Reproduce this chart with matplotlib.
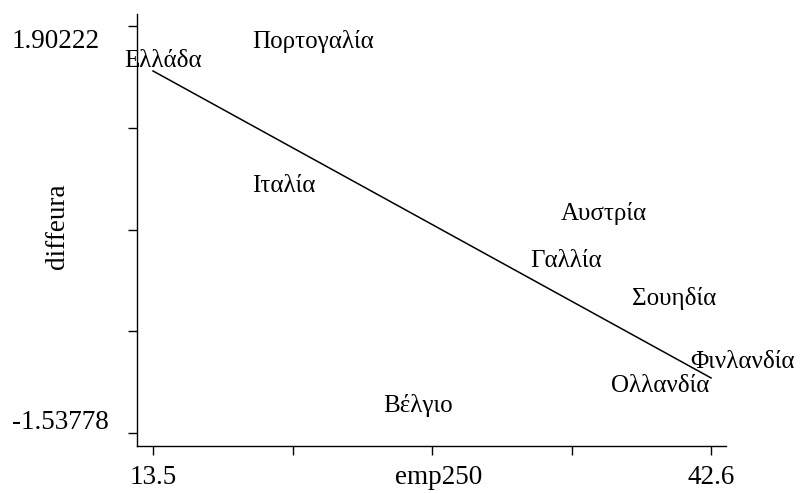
import numpy as np
import matplotlib
matplotlib.use("Agg")
from matplotlib import pyplot as plt
from matplotlib.transforms import ScaledTranslation

plt.rcParams['font.family'] = ['Liberation Serif', 'DejaVu Serif']

# country labels and where they sit (emp250, diffeura)
countries = ["Ελλάδα", "Πορτογαλία", "Ιταλία", "Αυστρία", "Γαλλία",
             "Σουηδία", "Φινλανδία", "Ολλανδία", "Βέλγιο"]
emp250 = [14.02, 21.84, 20.33, 37.02, 35.04, 40.67, 44.22, 39.94, 27.32]
diffeura = [1.612, 1.772, 0.553, 0.322, -0.080, -0.400, -0.940, -1.137, -1.306]

# fitted line end points
fit_x = [13.5, 42.6]
fit_y = [1.526, -1.072]

xmin, xmax = 13.5, 42.6
ymin, ymax = -1.53778, 1.90222

fig = plt.figure(figsize=(8.07, 4.93), dpi=100)
ax = fig.add_axes([137/807, 1 - 446/493, (726-137)/807, (446-14)/493])

for name, x, y in zip(countries, emp250, diffeura):
    ax.text(x, y, name, fontsize=18, ha='center', va='center')

ax.plot(fit_x, fit_y, color='black', lw=1.1)

ax.set_xlim(12.666, 43.38)
ax.set_ylim(-1.648, 2.008)

ax.spines['top'].set_visible(False)
ax.spines['right'].set_visible(False)
for s in ['left', 'bottom']:
    ax.spines[s].set_linewidth(1.0)

ax.set_xticks(np.linspace(xmin, xmax, 5))
ax.set_xticklabels(["13.5", "", "", "", "42.6"])
ax.set_yticks(np.linspace(ymin, ymax, 5))
ax.set_yticklabels(["-1.53778", "", "", "", "1.90222"])
ax.tick_params(axis='x', length=6.5, width=1, labelsize=19.5, pad=7)
ax.tick_params(axis='y', length=6.5, width=1, labelsize=19.5, pad=83.5)

ylabs = ax.get_yticklabels()
for lab in ylabs:
    lab.set_ha('left')
ylabs[0].set_va('bottom')
ylabs[-1].set_va('top')
ylabs[0].set_transform(ylabs[0].get_transform() + ScaledTranslation(0, -2/100, fig.dpi_scale_trans))
ylabs[-1].set_transform(ylabs[-1].get_transform() + ScaledTranslation(0, -3/100, fig.dpi_scale_trans))

ax.set_xlabel("emp250", fontsize=19.5)
ax.xaxis.set_label_coords((439-137)/589, -0.045)
ax.set_ylabel("diffeura", fontsize=19.5)
ax.yaxis.set_label_coords(-0.114, 0.509)

plt.savefig("out.png", dpi=100)
